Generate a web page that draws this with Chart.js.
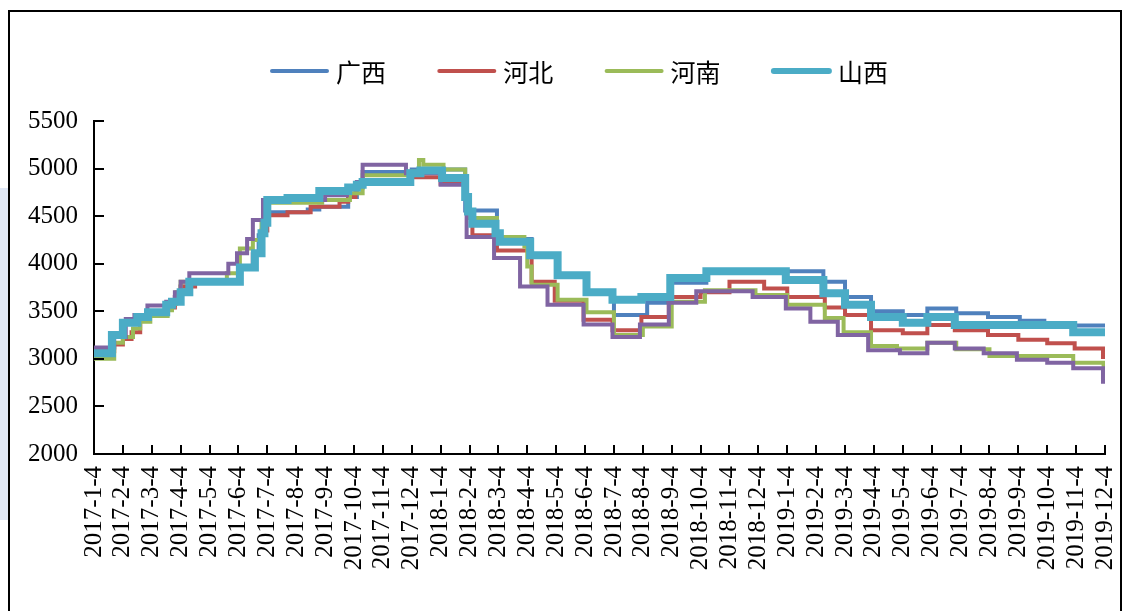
<!DOCTYPE html>
<html>
<head>
<meta charset="utf-8">
<script src="https://cdn.jsdelivr.net/npm/chart.js@4.4.0/dist/chart.umd.min.js"></script>
<style>
  html, body { margin: 0; padding: 0; background: #fff; overflow: hidden; }
  body { width: 1134px; height: 611px; position: relative; }
  #strip { position: absolute; left: 0; top: 188px; width: 8px; height: 332px; background: #dfe7f5; }
  #frame { position: absolute; left: 8px; top: 10px; width: 1110px; height: 620px; border: 2px solid #000; }
  #box { position: relative; width: 1110px; height: 599px; }
</style>
</head>
<body>
<div id="strip"></div>
<div id="frame"><div id="box"><canvas id="chart"></canvas></div></div>
<script>
// x 轴标签（每月4日）
const xLabels = [
  "2017-1-4", "2017-2-4", "2017-3-4", "2017-4-4", "2017-5-4", "2017-6-4",
  "2017-7-4", "2017-8-4", "2017-9-4", "2017-10-4", "2017-11-4", "2017-12-4",
  "2018-1-4", "2018-2-4", "2018-3-4", "2018-4-4", "2018-5-4", "2018-6-4",
  "2018-7-4", "2018-8-4", "2018-9-4", "2018-10-4", "2018-11-4", "2018-12-4",
  "2019-1-4", "2019-2-4", "2019-3-4", "2019-4-4", "2019-5-4", "2019-6-4",
  "2019-7-4", "2019-8-4", "2019-9-4", "2019-10-4", "2019-11-4", "2019-12-4"
];
const yTicks = [2000, 2500, 3000, 3500, 4000, 4500, 5000, 5500];

// [月份序号, 价格] —— 价格变动点
const guangxi = [[0,3080],[0.62,3250],[1.0,3370],[1.5,3440],[1.87,3500],[2.5,3570],[2.8,3650],[3.0,3760],[3.3,3810],[5.05,3960],[5.5,4100],[5.7,4300],[5.85,4450],[6.0,4540],[7.4,4570],[7.8,4600],[8.8,4700],[9.1,4800],[9.3,4965],[11.0,4990],[12.85,4560],[13.95,4260],[15.15,4090],[16.05,3880],[17.05,3700],[18.0,3460],[19.15,3590],[20.0,3800],[21.2,3920],[25.25,3810],[26.0,3650],[26.9,3500],[28.0,3460],[28.85,3530],[29.85,3480],[30.95,3440],[32.05,3400],[32.9,3350],[35,3350]];
const hebei = [[0,3080],[0.7,3150],[1.0,3210],[1.3,3280],[1.6,3400],[1.87,3460],[2.5,3540],[2.8,3650],[3.0,3760],[3.5,3810],[5.05,3960],[5.5,4100],[5.8,4350],[6.0,4510],[6.7,4540],[7.5,4600],[8.5,4650],[8.8,4700],[9.05,4810],[9.3,4860],[10.95,4910],[12.0,4840],[12.9,4550],[13.1,4300],[13.95,4140],[15.15,3810],[15.95,3610],[16.95,3410],[17.95,3300],[18.95,3440],[19.9,3650],[21.0,3700],[22.0,3810],[23.2,3740],[24.0,3650],[25.3,3540],[26.0,3460],[26.9,3300],[28.0,3270],[28.85,3355],[29.8,3300],[30.95,3250],[32.0,3200],[33.0,3165],[33.95,3110],[34.93,3020],[35,3020]];
const henan = [[0,3000],[0.7,3170],[1.0,3230],[1.35,3320],[1.6,3390],[1.95,3450],[2.55,3510],[2.7,3580],[2.85,3700],[3.0,3810],[4.6,3900],[5.05,4160],[5.5,4250],[5.8,4450],[6.0,4640],[7.9,4670],[8.86,4740],[9.3,4930],[10.95,4970],[11.25,5090],[11.4,5040],[12.1,4990],[12.85,4700],[13.0,4480],[13.95,4280],[14.9,4180],[15.0,3970],[15.15,3780],[16.05,3620],[17.05,3490],[18.0,3250],[19.0,3340],[20.0,3600],[21.15,3720],[22.9,3670],[24.0,3570],[25.3,3430],[25.95,3280],[26.9,3135],[27.8,3110],[28.85,3170],[29.85,3100],[31.0,3030],[33.9,2960],[34.95,2860],[35,2860]];
const shanxi = [[0,3060],[0.62,3250],[1.0,3380],[1.5,3440],[1.87,3490],[2.5,3570],[2.7,3600],[3.0,3700],[3.3,3810],[5.05,3960],[5.57,4110],[5.8,4320],[5.9,4430],[6.0,4670],[6.7,4690],[7.8,4765],[8.8,4800],[9.1,4830],[9.3,4860],[10.95,4950],[11.3,4980],[12.05,4900],[12.85,4700],[12.95,4550],[13.1,4420],[13.9,4320],[14.05,4230],[15.1,4090],[16.05,3880],[17.05,3700],[17.95,3620],[18.95,3650],[19.95,3850],[21.2,3920],[23.95,3830],[25.25,3690],[26.0,3570],[26.9,3440],[28.0,3380],[28.85,3440],[29.8,3355],[33.9,3280],[35,3250]];
const other = [[0,3120],[0.7,3230],[1.1,3420],[1.4,3460],[1.85,3560],[2.5,3600],[2.8,3700],[3.0,3810],[3.3,3900],[4.65,4000],[4.95,4110],[5.3,4260],[5.5,4460],[5.85,4670],[8.0,4720],[8.76,4800],[9.1,4860],[9.3,5040],[10.8,4950],[12.0,4830],[12.9,4280],[13.85,4060],[14.75,3760],[15.7,3570],[16.95,3360],[17.95,3230],[18.9,3360],[19.9,3590],[20.85,3710],[22.8,3650],[23.95,3530],[24.8,3390],[25.75,3250],[26.8,3090],[27.9,3060],[28.85,3170],[29.8,3110],[30.8,3060],[31.95,2990],[33.0,2960],[33.9,2900],[34.93,2760],[35,2760]];

const serif = '"Liberation Serif", "DejaVu Serif", serif';

function line(label, data, color, width, order) {
  return {
    label, data,
    borderColor: color, backgroundColor: color,
    borderWidth: width, stepped: true,
    pointRadius: 0, fill: false, order
  };
}

// 刻度线朝内 + 图例
const extras = {
  id: 'extras',
  afterDraw(chart) {
    const ctx = chart.ctx, xs = chart.scales.x, ys = chart.scales.y;
    ctx.save();
    ctx.strokeStyle = '#000';
    ctx.lineWidth = 2;
    ctx.beginPath();
    ys.ticks.forEach(t => {
      const py = Math.round(ys.getPixelForValue(t.value));
      ctx.moveTo(xs.left, py); ctx.lineTo(xs.left + 10, py);
    });
    xs.ticks.forEach(t => {
      const px = Math.round(xs.getPixelForValue(t.value));
      ctx.moveTo(px, ys.bottom); ctx.lineTo(px, ys.bottom - 9);
    });
    ctx.stroke();

    ctx.font = '25px "Noto Sans CJK SC"';
    ctx.textBaseline = 'middle';
    ctx.fillStyle = '#000';
    chart.data.datasets.slice(0, 4).forEach((ds, i) => {
      const x0 = 262 + i * 167.3, y0 = 59;
      ctx.strokeStyle = ds.borderColor;
      ctx.lineWidth = Math.min(ds.borderWidth, 6);
      ctx.lineCap = 'round';
      ctx.beginPath(); ctx.moveTo(x0, y0); ctx.lineTo(x0 + 55, y0); ctx.stroke();
      ctx.fillText(ds.label, x0 + 64, y0 + 1);
    });
    ctx.restore();
  }
};

new Chart(document.getElementById('chart'), {
  type: 'line',
  data: {
    datasets: [
      line('广西', guangxi, '#4F81BD', 4, 4),
      line('河北', hebei, '#C0504D', 4, 3),
      line('河南', henan, '#9BBB59', 4, 2),
      line('山西', shanxi, '#4BACC6', 8, 0),
      line('其他', other, '#8064A2', 4, 1)
    ]
  },
  options: {
    responsive: true,
    maintainAspectRatio: false,
    animation: false,
    layout: { padding: { top: 109, right: 15, left: 0, bottom: 0 } },
    plugins: { legend: { display: false }, tooltip: { enabled: false } },
    scales: {
      x: {
        type: 'linear', min: 0, max: 35,
        afterFit: s => { s.height = 157; s.paddingLeft = 0; s.paddingRight = 0; },
        afterBuildTicks: s => { s.ticks = xLabels.map((_, i) => ({ value: i })); },
        grid: { display: true, drawOnChartArea: false, drawTicks: false },
        border: { display: true, color: '#000', width: 2 },
        ticks: {
          autoSkip: false, maxRotation: 90, minRotation: 90, padding: 12,
          color: '#000', font: { family: serif, size: 25 },
          callback: v => xLabels[v]
        }
      },
      y: {
        min: 2000, max: 5500,
        afterFit: s => { s.width = 84; },
        afterBuildTicks: s => { s.ticks = yTicks.map(v => ({ value: v })); },
        grid: { display: true, drawOnChartArea: false, drawTicks: false },
        border: { display: true, color: '#000', width: 2 },
        ticks: {
          padding: 16, color: '#000', font: { family: serif, size: 25 },
          callback: v => String(v)
        }
      }
    }
  },
  plugins: [extras]
});
</script>
</body>
</html>
